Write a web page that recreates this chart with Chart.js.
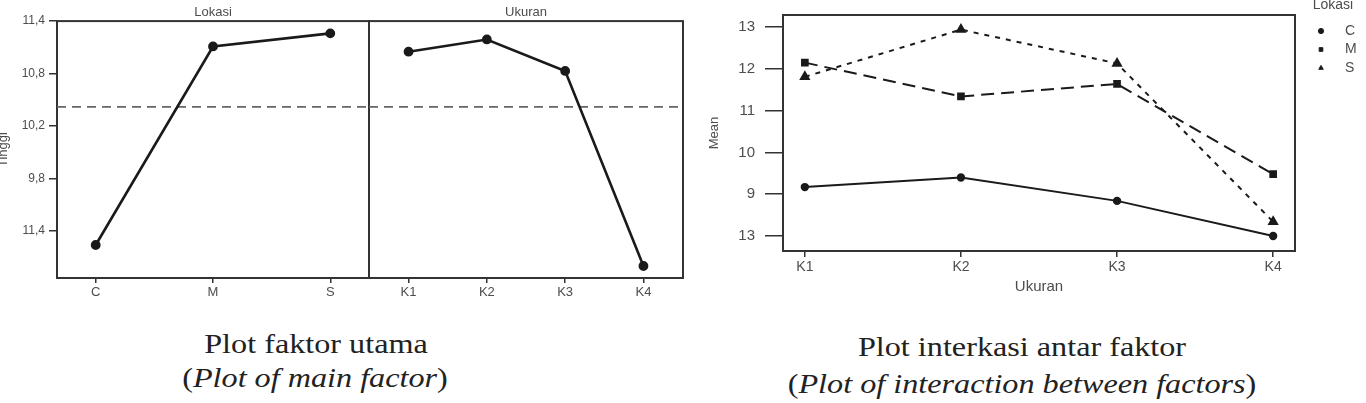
<!DOCTYPE html>
<html>
<head>
<meta charset="utf-8">
<script src="https://cdn.jsdelivr.net/npm/chart.js@4.4.1/dist/chart.umd.min.js"></script>
<style>
  html, body { margin: 0; padding: 0; background: #fff; }
  body { width: 1366px; height: 403px; position: relative; overflow: hidden; }
  canvas { position: absolute; }
  .cap {
    position: absolute; white-space: nowrap; color: #222;
    font-family: "Liberation Serif", "Times New Roman", serif;
    font-size: 28px; line-height: 30px;
    transform: translateX(-50%) scaleX(1.15);
  }
</style>
</head>
<body>
<canvas id="mainLokasi" width="372" height="305" style="left:0;top:0"></canvas>
<canvas id="mainUkuran" width="320" height="305" style="left:366px;top:0"></canvas>
<canvas id="interaksi" width="666" height="300" style="left:700px;top:0"></canvas>

<div class="cap" style="left:316px;top:329px">Plot faktor utama</div>
<div class="cap" style="left:315px;top:363px">(<i>Plot of main factor</i>)</div>
<div class="cap" style="left:1022px;top:332px">Plot interkasi antar faktor</div>
<div class="cap" style="left:1022px;top:369px">(<i>Plot of interaction between factors</i>)</div>

<script>
// main effects plot (Tinggi)
const lokasi = ['C', 'M', 'S'];
const lokasiMean = [8.84, 11.11, 11.26];
const ukuran = ['K1', 'K2', 'K3', 'K4'];
const ukuranMean = [11.05, 11.19, 10.83, 8.60];
const grandMean = 10.42;
const mainTicks = [9.0, 9.6, 10.2, 10.8, 11.4];
const mainTickLabels = ['11,4', '9,8', '10,2', '10,8', '11,4'];

// interaction plot (Mean), one series per Lokasi
const meanC = [9.17, 9.40, 8.84, 8.00];
const meanM = [12.15, 11.34, 11.64, 9.48];
const meanS = [11.81, 12.94, 12.13, 8.34];
const interTicks = [8, 9, 10, 11, 12, 13];
const interTickLabels = ['13', '9', '10', '11', '12', '13'];

const INK = '#1a1a1a';
const TXT = '#4d4d4d';
const SANS = 'Liberation Sans';

const pts = vals => vals.map((y, x) => ({x: x, y: y}));

// label overhang is not wanted, the frame sits at fixed places
const noOverhang = s => {
    s.paddingLeft = 0;
    s.paddingRight = 0;
    s.paddingTop = 0;
    s.paddingBottom = 0;
};

// box round the plot area
const frame = {
    id: 'frame',
    beforeDatasetsDraw(chart) {
        const {ctx, chartArea: a} = chart;
        ctx.save();
        ctx.strokeStyle = '#333';
        ctx.lineWidth = 2;
        ctx.strokeRect(a.left, a.top, a.right - a.left, a.bottom - a.top);
        ctx.restore();
    }
};

// dashed grand mean line
const meanLine = {
    id: 'meanLine',
    beforeDatasetsDraw(chart, args, opts) {
        const {ctx, chartArea: a, scales} = chart;
        const py = scales.y.getPixelForValue(opts.value);
        ctx.save();
        ctx.setLineDash([9, 6]);
        ctx.strokeStyle = '#666';
        ctx.lineWidth = 1.8;
        ctx.beginPath();
        ctx.moveTo(a.left, py);
        ctx.lineTo(a.right, py);
        ctx.stroke();
        ctx.restore();
    }
};

// legend at the right, Minitab style
const sideLegend = {
    id: 'sideLegend',
    afterDraw(chart, args, opts) {
        const {ctx, chartArea: a} = chart;
        ctx.save();
        ctx.font = '14px "' + SANS + '"';
        ctx.fillStyle = TXT;
        ctx.textAlign = 'center';
        ctx.textBaseline = 'alphabetic';
        ctx.fillText(opts.title, a.right + 38, 8.5);
        ctx.textBaseline = 'middle';
        chart.data.datasets.forEach((ds, i) => {
            const y = a.top + 16 + i * 18.5;
            ctx.fillStyle = ds.borderColor;
            ctx.strokeStyle = ds.borderColor;
            ctx.setLineDash([]);
            Chart.helpers.drawPoint(ctx, {pointStyle: ds.pointStyle, radius: 2.6, borderWidth: 1, rotation: 0}, a.right + 26, y);
            ctx.fillStyle = TXT;
            ctx.textAlign = 'left';
            ctx.fillText(ds.label, a.right + 50, y);
        });
        ctx.restore();
    }
};

function mainPanel(id, title, labels, values, xPad, showY) {
    return new Chart(document.getElementById(id), {
        type: 'line',
        data: {
            datasets: [{
                data: pts(values),
                borderColor: INK,
                backgroundColor: INK,
                borderWidth: 2.6,
                pointRadius: 3.6,
                pointHoverRadius: 3.6
            }]
        },
        options: {
            responsive: false,
            animation: false,
            events: [],
            layout: {autoPadding: false, padding: {left: showY ? 0 : 3, right: 3, top: 0, bottom: 0}},
            plugins: {
                legend: {display: false},
                tooltip: {enabled: false},
                title: {
                    display: true, text: title, fullSize: false, color: TXT,
                    font: {family: SANS, size: 13, weight: 'normal'},
                    padding: {top: 5, bottom: 0.5}
                },
                meanLine: {value: grandMean}
            },
            scales: {
                x: {
                    type: 'linear',
                    min: -xPad,
                    max: labels.length - 1 + xPad,
                    afterBuildTicks: s => { s.ticks = labels.map((_, i) => ({value: i})); },
                    afterFit: s => { s.height = 27; noOverhang(s); },
                    grid: {drawOnChartArea: false, tickLength: 5, color: '#333', lineWidth: 1.5},
                    border: {display: false},
                    ticks: {
                        callback: (v, i) => labels[i],
                        color: TXT, font: {family: SANS, size: 13},
                        padding: 2, maxRotation: 0, autoSkip: false
                    }
                },
                y: {
                    display: showY,
                    min: 8.463,
                    max: 11.4,
                    afterBuildTicks: s => { s.ticks = mainTicks.map(v => ({value: v})); },
                    afterFit: s => { s.width = showY ? 57 : 0; noOverhang(s); },
                    grid: {drawOnChartArea: false, tickLength: 8, color: '#333', lineWidth: 1.5},
                    border: {display: false},
                    ticks: {
                        callback: (v, i) => mainTickLabels[i],
                        color: TXT, font: {family: SANS, size: 12},
                        padding: 4, autoSkip: false
                    },
                    title: {
                        display: true, text: 'Tinggi', color: TXT,
                        font: {family: SANS, size: 13},
                        padding: {top: -4, bottom: 0}
                    }
                }
            }
        },
        plugins: [frame, meanLine]
    });
}

mainPanel('mainLokasi', 'Lokasi', lokasi, lokasiMean, 0.33, true);
mainPanel('mainUkuran', 'Ukuran', ukuran, ukuranMean, 0.505, false);

new Chart(document.getElementById('interaksi'), {
    type: 'line',
    data: {
        datasets: [{
            label: 'C',
            data: pts(meanC),
            borderColor: INK, backgroundColor: INK,
            borderWidth: 2, pointStyle: 'circle', pointRadius: 3.2
        }, {
            label: 'M',
            data: pts(meanM),
            borderColor: INK, backgroundColor: INK,
            borderWidth: 2, borderDash: [13, 7], pointStyle: 'rect', pointRadius: 4
        }, {
            label: 'S',
            data: pts(meanS),
            borderColor: INK, backgroundColor: INK,
            borderWidth: 2, borderDash: [5, 6], pointStyle: 'triangle', pointRadius: 4.5
        }]
    },
    options: {
        responsive: false,
        animation: false,
        events: [],
        layout: {autoPadding: false, padding: {left: 0, right: 71, top: 15, bottom: 0}},
        plugins: {
            legend: {display: false},
            tooltip: {enabled: false},
            sideLegend: {title: 'Lokasi'}
        },
        scales: {
            x: {
                type: 'linear',
                min: -0.14,
                max: 3.14,
                afterBuildTicks: s => { s.ticks = ukuran.map((_, i) => ({value: i})); },
                afterFit: s => { s.height = 49; noOverhang(s); },
                grid: {drawOnChartArea: false, tickLength: 6, color: '#333', lineWidth: 1.5},
                border: {display: false},
                ticks: {
                    callback: (v, i) => ukuran[i],
                    color: TXT, font: {family: SANS, size: 14},
                    padding: 2, maxRotation: 0, autoSkip: false
                },
                title: {
                    display: true, text: 'Ukuran', color: TXT,
                    font: {family: SANS, size: 15},
                    padding: {top: 0, bottom: 4}
                }
            },
            y: {
                min: 7.64,
                max: 13.29,
                afterBuildTicks: s => { s.ticks = interTicks.map(v => ({value: v})); },
                afterFit: s => { s.width = 83; noOverhang(s); },
                grid: {drawOnChartArea: false, tickLength: 18, color: '#333', lineWidth: 1.5},
                border: {display: false},
                ticks: {
                    callback: (v, i) => interTickLabels[i],
                    color: TXT, font: {family: SANS, size: 15},
                    padding: 10, autoSkip: false
                },
                title: {
                    display: true, text: 'Mean', color: TXT,
                    font: {family: SANS, size: 13},
                    padding: {top: 7, bottom: 0}
                }
            }
        }
    },
    plugins: [frame, sideLegend]
});
</script>
</body>
</html>
